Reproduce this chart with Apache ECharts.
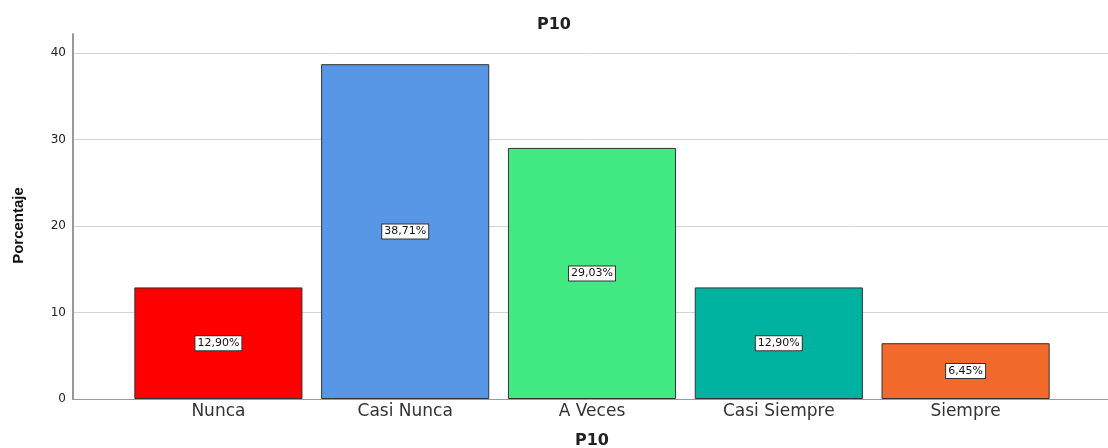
<!DOCTYPE html>
<html><head><meta charset="utf-8">
<script src="https://cdn.jsdelivr.net/npm/echarts@6/dist/echarts.min.js"></script>
<style>html,body{margin:0;padding:0;background:#fff}#c{width:1108px;height:448px}</style>
</head><body><div id="c"></div>
<script>
const categories = ['Nunca', 'Casi Nunca', 'A Veces', 'Casi Siempre', 'Siempre'];
const values = [12.90, 38.71, 29.03, 12.90, 6.45];
const labels = ['12,90%', '38,71%', '29,03%', '12,90%', '6,45%'];
const colors = ['#FF0000', '#5896E6', '#42E882', '#00B2A0', '#F2692C'];
const yMax = 42.2;

const chart = echarts.init(document.getElementById('c'));
const wide = 'DejaVu Sans, sans-serif';
chart.setOption({
  animation: false,
  backgroundColor: '#fff',
  title: { text: 'P10', left: 'center', top: 12, textStyle: { fontFamily: wide, fontSize: 16, fontWeight: 'bold', color: '#222' } },
  grid: [
    { left: 73, right: 0, top: 34, bottom: 49, outerBoundsMode: 'none' },
    { left: 125, right: 49, top: 34, bottom: 49, outerBoundsMode: 'none' }
  ],
  xAxis: [
    { gridIndex: 0, type: 'value', min: 0, max: 1, axisLabel: { show: false }, axisTick: { show: false }, splitLine: { show: false },
      axisLine: { show: true, lineStyle: { color: '#999', width: 1 } } },
    { gridIndex: 1, type: 'category', data: categories, axisLine: { show: false }, axisTick: { show: false },
      axisLabel: { fontFamily: wide, fontSize: 17, color: '#333', margin: 4 },
      name: 'P10', nameLocation: 'middle', nameGap: 34,
      nameTextStyle: { fontFamily: wide, fontSize: 16, fontWeight: 'bold', color: '#222' } }
  ],
  yAxis: [
    { gridIndex: 0, type: 'value', min: 0, max: yMax, interval: 10,
      axisLine: { show: true, lineStyle: { color: '#999', width: 2 } }, axisTick: { show: false },
      axisLabel: { fontFamily: wide, fontSize: 12, color: '#222', margin: 7, showMaxLabel: false,
        formatter: v => (v % 10 === 0 ? String(v) : '') },
      splitLine: { show: true, lineStyle: { color: ['#d4d4d4', '#d4d4d4', '#d4d4d4', '#d4d4d4', '#d4d4d4', 'rgba(0,0,0,0)'], width: 1 } },
      name: 'Porcentaje', nameLocation: 'middle', nameGap: 47, nameRotate: 90,
      nameTextStyle: { fontFamily: 'Liberation Sans Narrow, Liberation Sans, sans-serif', fontSize: 15, fontWeight: 'bold', color: '#111', padding: [0, 18, 0, 0] } },
    { gridIndex: 1, type: 'value', min: 0, max: yMax, show: false, splitLine: { show: false } }
  ],
  series: [{
    type: 'bar', xAxisIndex: 1, yAxisIndex: 1, barCategoryGap: '10%',
    data: values.map((v, i) => ({ value: v, itemStyle: { color: colors[i] } })),
    itemStyle: { borderColor: '#333', borderWidth: 1 },
    label: { show: true, position: 'inside', formatter: p => labels[p.dataIndex],
      fontFamily: wide, fontSize: 11, color: '#111', backgroundColor: '#fff',
      borderColor: '#333', borderWidth: 1, padding: [2, 2, 1, 2] }
  }]
});
</script></body></html>
